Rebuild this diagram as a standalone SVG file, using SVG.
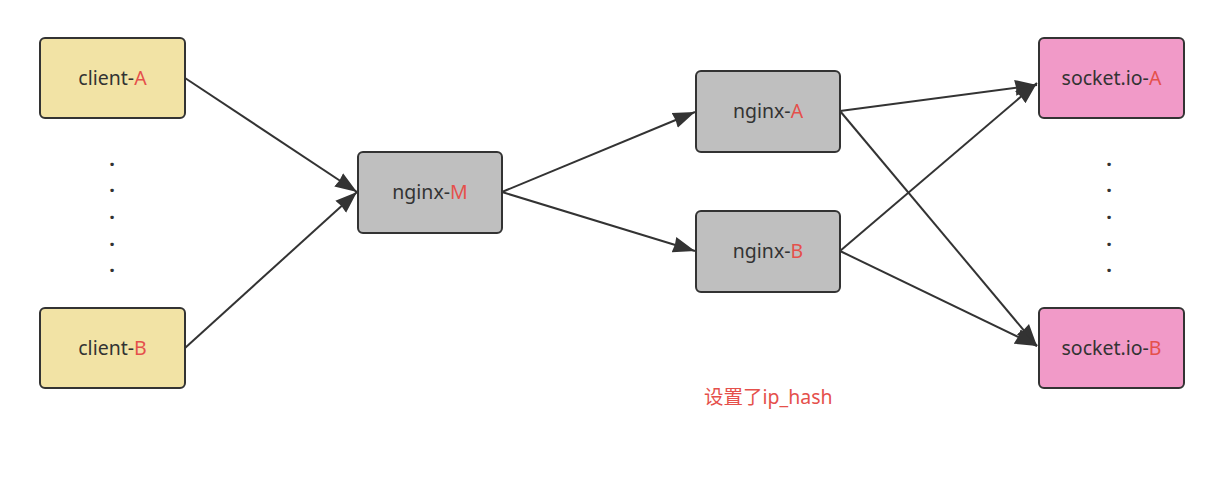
<svg xmlns="http://www.w3.org/2000/svg" width="1221" height="482" viewBox="0 0 1221 482">
<style>
.node rect{stroke:#333;stroke-width:2}
.yellow rect{fill:#F2E3A5}
.gray rect{fill:#BFBFBF}
.pink rect{fill:#F19AC8}
text{font-family:"Noto Sans","Noto Sans CJK SC",sans-serif;font-size:19.5px;fill:#333;text-anchor:middle}
.r{fill:#E5504B}
.lbl{fill:#E5504B;text-anchor:start}
.dot{font-size:20px;font-weight:bold}
#connectors line{stroke:#333;stroke-width:2;marker-end:url(#ah)}
</style>
<defs>
<marker id="ah" markerUnits="userSpaceOnUse" markerWidth="24" markerHeight="18" refX="22" refY="9" orient="auto">
<path d="M0,1 L22,9 L0,17 L1,9 Z" fill="#333"/>
</marker>
</defs>
<rect width="1221" height="482" fill="#fff"/>
<g id="connectors">
<line x1="185" y1="78" x2="357" y2="192"/>
<line x1="185" y1="348" x2="357" y2="192"/>
<line x1="502" y1="192" x2="695" y2="112"/>
<line x1="502" y1="192" x2="695" y2="251"/>
<line x1="840" y1="111" x2="1037" y2="85"/>
<line x1="840" y1="251" x2="1037" y2="83"/>
<line x1="840" y1="111" x2="1037" y2="346"/>
<line x1="840" y1="251" x2="1037" y2="346"/>
</g>
<g id="client-A" class="node yellow"><rect x="40" y="38" width="145" height="80" rx="5"/><text x="112.5" y="85">client-<tspan class="r">A</tspan></text></g>
<g id="client-B" class="node yellow"><rect x="40" y="308" width="145" height="80" rx="5"/><text x="112.5" y="355">client-<tspan class="r">B</tspan></text></g>
<g id="nginx-M" class="node gray"><rect x="358" y="152" width="144" height="81" rx="5"/><text x="430" y="199">nginx-<tspan class="r">M</tspan></text></g>
<g id="nginx-A" class="node gray"><rect x="696" y="71" width="144" height="81" rx="5"/><text x="768" y="118">nginx-<tspan class="r">A</tspan></text></g>
<g id="nginx-B" class="node gray"><rect x="696" y="211" width="144" height="81" rx="5"/><text x="768" y="258">nginx-<tspan class="r">B</tspan></text></g>
<g id="socket-A" class="node pink"><rect x="1039" y="38" width="145" height="80" rx="5"/><text x="1111.5" y="85">socket.io-<tspan class="r">A</tspan></text></g>
<g id="socket-B" class="node pink"><rect x="1039" y="308" width="145" height="80" rx="5"/><text x="1111.5" y="355">socket.io-<tspan class="r">B</tspan></text></g>
<g id="dots-left">
<text class="dot" x="112" y="166">.</text><text class="dot" x="112" y="192">.</text><text class="dot" x="112" y="219">.</text><text class="dot" x="112" y="246">.</text><text class="dot" x="112" y="272">.</text>
</g>
<g id="dots-right">
<text class="dot" x="1109" y="166">.</text><text class="dot" x="1109" y="192">.</text><text class="dot" x="1109" y="219">.</text><text class="dot" x="1109" y="246">.</text><text class="dot" x="1109" y="272">.</text>
</g>
<text class="lbl" x="704" y="404">设置了ip_hash</text>
</svg>
